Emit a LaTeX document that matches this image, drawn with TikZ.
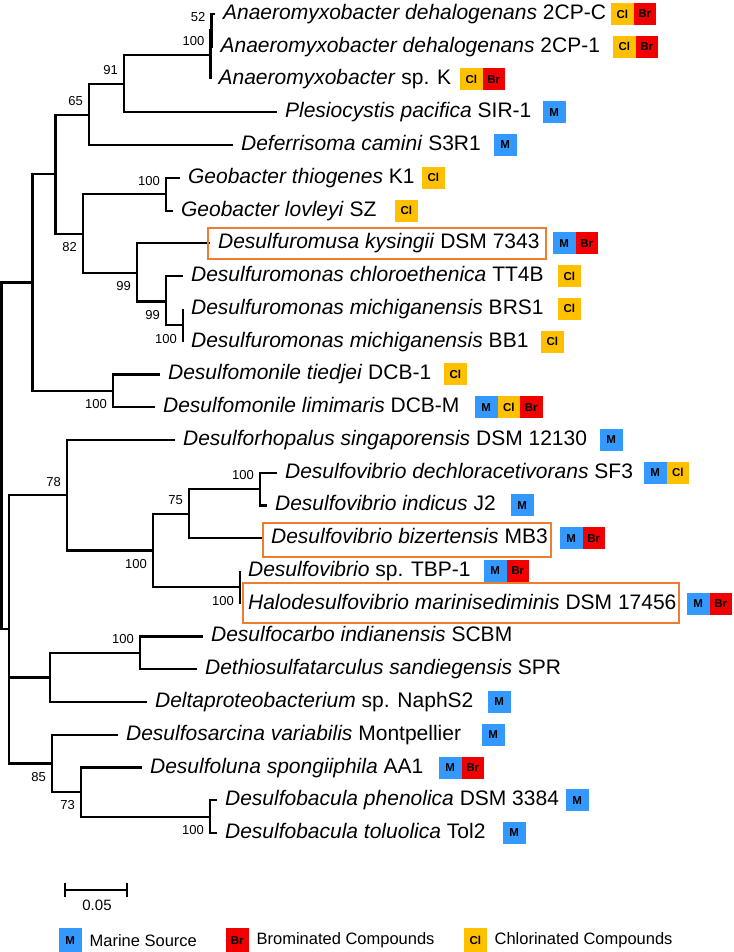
\documentclass[tikz,border=0pt]{standalone}
\usepackage{fontspec}
\setmainfont{Liberation Sans}
\usetikzlibrary{positioning,arrows.meta}

\definecolor{marineblue}{HTML}{3399FF}
\definecolor{bromored}{HTML}{F20000}
\definecolor{chloroyellow}{HTML}{FFC000}
\definecolor{boxorange}{HTML}{ED7D31}

\begin{document}
\begin{tikzpicture}[x=1pt, y=-1pt, line width=2.2pt,
  taxon/.style={anchor=west, inner xsep=7pt, inner ysep=0pt, font=\fontsize{21}{24}\selectfont, text height=15pt, text depth=4pt},
  boot up/.style={anchor=east, inner sep=0pt, font=\fontsize{13}{15}\selectfont, xshift=-5pt, yshift=13.5pt},
  boot down/.style={boot up, yshift=-27pt},
  badge/.style={anchor=west, minimum width=22.5pt, minimum height=22pt, inner sep=0pt, outer sep=0pt, font=\fontsize{11.5}{12}\selectfont\bfseries},
  marinebadge/.style={badge, fill=marineblue},
  bromobadge/.style={badge, fill=bromored},
  chlorobadge/.style={badge, fill=chloroyellow},
  hlbox/.style={draw=boxorange, line width=2pt},
  legendtext/.style={inner sep=0pt, font=\fontsize{16.5}{18}\selectfont}]
  \useasboundingbox (0,0) rectangle (733,952);

  % internal nodes of the tree
  \coordinate (root) at (1.5, 455.9);
  \coordinate (n33) at (32.5, 282.5);
  \coordinate (n56) at (55.5, 174.3);
  \coordinate (n65) at (89, 115);
  \coordinate (n91) at (124, 84);
  \coordinate (nA) at (210.5, 55);
  \coordinate (nAA) at (211.5, 30.4);
  \coordinate (n82) at (83, 233.6);
  \coordinate (nGeo) at (166, 194.2);
  \coordinate (n99) at (137, 272.8);
  \coordinate (n166) at (166, 301.5);
  \coordinate (n183) at (183, 325.2);
  \coordinate (nMon) at (113, 390.8);
  \coordinate (n8) at (9, 629.3);
  \coordinate (n67) at (67, 495.2);
  \coordinate (n153) at (153, 550.4);
  \coordinate (n189) at (189, 513.6);
  \coordinate (n260) at (260, 489);
  \coordinate (n240) at (240, 587.3);
  \coordinate (n50) at (50, 677.4);
  \coordinate (n140) at (140, 652.8);
  \coordinate (n52) at (52, 763.4);
  \coordinate (n81) at (81, 792);
  \coordinate (n210) at (210, 816.6);

  % leaves
  \node[taxon] (l1) at (215, 14.0) {\textit{Anaeromyxobacter dehalogenans} 2CP-C};
  \node[taxon] (l2) at (212.5, 46.8) {\textit{Anaeromyxobacter dehalogenans} 2CP-1};
  \node[taxon] (l3) at (210.5, 79.5) {\textit{Anaeromyxobacter} sp. K};
  \node[taxon] (l4) at (277, 112.3) {\textit{Plesiocystis pacifica} SIR-1};
  \node[taxon] (l5) at (233, 145.0) {\textit{Deferrisoma camini} S3R1};
  \node[taxon] (l6) at (180, 177.8) {\textit{Geobacter thiogenes} K1};
  \node[taxon] (l7) at (173, 210.6) {\textit{Geobacter lovleyi} SZ};
  \node[taxon] (l8) at (210, 243.3) {\textit{Desulfuromusa kysingii} DSM 7343};
  \node[taxon] (l9) at (183, 276.1) {\textit{Desulfuromonas chloroethenica} TT4B};
  \node[taxon] (l10) at (183, 308.8) {\textit{Desulfuromonas michiganensis} BRS1};
  \node[taxon] (l11) at (183, 341.6) {\textit{Desulfuromonas michiganensis} BB1};
  \node[taxon] (l12) at (160, 374.4) {\textit{Desulfomonile tiedjei} DCB-1};
  \node[taxon] (l13) at (155, 407.1) {\textit{Desulfomonile limimaris} DCB-M};
  \node[taxon] (l14) at (175, 439.9) {\textit{Desulforhopalus singaporensis} DSM 12130};
  \node[taxon] (l15) at (277, 472.6) {\textit{Desulfovibrio dechloracetivorans} SF3};
  \node[taxon] (l16) at (267, 505.4) {\textit{Desulfovibrio indicus} J2};
  \node[taxon] (l17) at (263, 538.2) {\textit{Desulfovibrio bizertensis} MB3};
  \node[taxon] (l18) at (240, 570.9) {\textit{Desulfovibrio} sp. TBP-1};
  \node[taxon] (l19) at (240, 603.7) {\textit{Halodesulfovibrio marinisediminis} DSM 17456};
  \node[taxon] (l20) at (203, 636.4) {\textit{Desulfocarbo indianensis} SCBM};
  \node[taxon] (l21) at (197, 669.2) {\textit{Dethiosulfatarculus sandiegensis} SPR};
  \node[taxon] (l22) at (147, 702.0) {\textit{Deltaproteobacterium} sp. NaphS2};
  \node[taxon] (l23) at (118, 734.7) {\textit{Desulfosarcina variabilis} Montpellier};
  \node[taxon] (l24) at (142, 767.5) {\textit{Desulfoluna spongiiphila} AA1};
  \node[taxon] (l25) at (217, 800.2) {\textit{Desulfobacula phenolica} DSM 3384};
  \node[taxon] (l26) at (217, 833.0) {\textit{Desulfobacula toluolica} Tol2};

  % upper clade
  \draw (root) |- (n33);
  \draw (root) |- (n8);
  \draw (n33) |- (n56);
  \draw (n33) |- (nMon);
  \draw (n56) |- (n65);
  \draw (n56) |- (n82);
  \draw (n65) |- (n91);
  \draw (n65) |- (l5);
  \draw (n91) |- (nA);
  \draw (n91) |- (l4);
  \draw (nA) |- (nAA);
  \draw (nA) |- (l3);
  \draw (nAA) |- (l1);
  \draw (nAA) |- (l2);
  \draw (n82) |- (nGeo);
  \draw (n82) |- (n99);
  \draw (nGeo) |- (l6);
  \draw (nGeo) |- (l7);
  \draw (n99) |- (l8);
  \draw (n99) |- (n166);
  \draw (n166) |- (l9);
  \draw (n166) |- (n183);
  \draw (n183) |- (l10);
  \draw (n183) |- (l11);
  \draw (nMon) |- (l12);
  \draw (nMon) |- (l13);

  % lower clade
  \draw (n8) |- (n67);
  \draw (n8) |- (n50);
  \draw (n8) |- (n52);
  \draw (n67) |- (l14);
  \draw (n67) |- (n153);
  \draw (n153) |- (n189);
  \draw (n153) |- (n240);
  \draw (n189) |- (n260);
  \draw (n189) |- (l17);
  \draw (n260) |- (l15);
  \draw (n260) |- (l16);
  \draw (n240) |- (l18);
  \draw (n240) |- (l19);
  \draw (n50) |- (n140);
  \draw (n50) |- (l22);
  \draw (n140) |- (l20);
  \draw (n140) |- (l21);
  \draw (n52) |- (l23);
  \draw (n52) |- (n81);
  \draw (n81) |- (l24);
  \draw (n81) |- (n210);
  \draw (n210) |- (l25);
  \draw (n210) |- (l26);

  % bootstrap values
  \node[boot up] at (nAA) {52};
  \node[boot up] at (nA) {100};
  \node[boot up] at (n91) {91};
  \node[boot up] at (n65) {65};
  \node[boot down] at (n82) {82};
  \node[boot up] at (nGeo) {100};
  \node[boot down] at (n99) {99};
  \node[boot down] at (n166) {99};
  \node[boot down] at (n183) {100};
  \node[boot down] at (nMon) {100};
  \node[boot up] at (n67) {78};
  \node[boot down] at (n153) {100};
  \node[boot up] at (n189) {75};
  \node[boot up] at (n260) {100};
  \node[boot down] at (n240) {100};
  \node[boot up] at (n140) {100};
  \node[boot down] at (n52) {85};
  \node[boot down] at (n81) {73};
  \node[boot down] at (n210) {100};

  % highlighted strains
  \draw[hlbox] (208, 228) rectangle (546, 259);
  \draw[hlbox] (263, 523) rectangle (551, 557);
  \draw[hlbox] (243, 583) rectangle (679, 623);

  % badges
  \node[chlorobadge] (b1a) at (611, 14.0) {Cl};
  \node[bromobadge, right=0pt of b1a] (b1b) {Br};
  \node[chlorobadge] (b2a) at (613, 46.8) {Cl};
  \node[bromobadge, right=0pt of b2a] (b2b) {Br};
  \node[chlorobadge] (b3a) at (460, 79.5) {Cl};
  \node[bromobadge, right=0pt of b3a] (b3b) {Br};
  \node[marinebadge] (b4a) at (543, 112.3) {M};
  \node[marinebadge] (b5a) at (494, 145.0) {M};
  \node[chlorobadge] (b6a) at (422, 177.8) {Cl};
  \node[chlorobadge] (b7a) at (395, 210.6) {Cl};
  \node[marinebadge] (b8a) at (553, 243.3) {M};
  \node[bromobadge, right=0pt of b8a] (b8b) {Br};
  \node[chlorobadge] (b9a) at (558, 276.1) {Cl};
  \node[chlorobadge] (b10a) at (558, 308.8) {Cl};
  \node[chlorobadge] (b11a) at (541, 341.6) {Cl};
  \node[chlorobadge] (b12a) at (444, 374.4) {Cl};
  \node[marinebadge] (b13a) at (475, 407.1) {M};
  \node[chlorobadge, right=0pt of b13a] (b13b) {Cl};
  \node[bromobadge, right=0pt of b13b] (b13c) {Br};
  \node[marinebadge] (b14a) at (600, 439.9) {M};
  \node[marinebadge] (b15a) at (644, 472.6) {M};
  \node[chlorobadge, right=0pt of b15a] (b15b) {Cl};
  \node[marinebadge] (b16a) at (511, 505.4) {M};
  \node[marinebadge] (b17a) at (560, 538.2) {M};
  \node[bromobadge, right=0pt of b17a] (b17b) {Br};
  \node[marinebadge] (b18a) at (484, 570.9) {M};
  \node[bromobadge, right=0pt of b18a] (b18b) {Br};
  \node[marinebadge] (b19a) at (687, 603.7) {M};
  \node[bromobadge, right=0pt of b19a] (b19b) {Br};
  \node[marinebadge] (b22a) at (488, 702.0) {M};
  \node[marinebadge] (b23a) at (482, 734.7) {M};
  \node[marinebadge] (b24a) at (439, 767.5) {M};
  \node[bromobadge, right=0pt of b24a] (b24b) {Br};
  \node[marinebadge] (b25a) at (566, 800.2) {M};
  \node[marinebadge] (b26a) at (503, 833.0) {M};

  % scale bar
  \coordinate (sbleft) at (64, 890);
  \coordinate (sbright) at (128, 890);
  \draw[{Bar[width=14pt]}-{Bar[width=14pt]}] (sbleft) -- (sbright);
  \node[inner sep=0pt, font=\fontsize{15}{17}\selectfont] (sblabel) at (97, 905) {0.05};

  % legend
  \node[marinebadge, minimum height=25pt] (legm) at (59, 940.5) {M};
  \node[legendtext, right=7pt of legm] (legmtext) {Marine Source};
  \node[bromobadge, minimum height=25pt] (legbr) at (226, 940.5) {Br};
  \node[legendtext, right=7pt of legbr] (legbrtext) {Brominated Compounds};
  \node[chlorobadge, minimum height=25pt] (legcl) at (464, 940.5) {Cl};
  \node[legendtext, right=7pt of legcl] (legcltext) {Chlorinated Compounds};
\end{tikzpicture}
\end{document}
